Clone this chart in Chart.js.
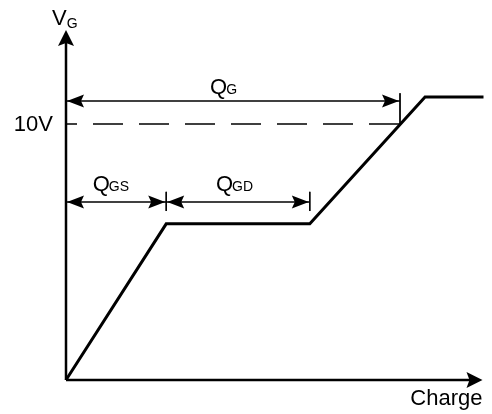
<!DOCTYPE html>
<html>
<head>
<meta charset="utf-8">
<script src="https://cdn.jsdelivr.net/npm/chart.js@4"></script>
<style>
  body { margin: 0; background: #fff; }
  #wrap { width: 492px; height: 414px; position: relative; }
</style>
</head>
<body>
<div id="wrap"><canvas id="ctx"></canvas></div>
<script>
// gate charge curve (charge in nC, gate voltage in V)
const curveCharge = [0, 12, 29.2, 43, 50];
const curveVolt = [0, 6.1, 6.1, 11.05, 11.05];

// dimension spans Q_GS, Q_GD, Q_G
const spanSubs = ['GS', 'GD', 'G'];
const spanStart = [0, 12, 0];
const spanEnd = [12, 29.2, 40];
const spanLevel = [6.95, 6.95, 10.9];
const labelCharge = [3.2, 17.95, 17.25];
const labelVolt = [7.38, 7.38, 11.17];

// little end ticks
const tickCharge = [12, 29.2, 40];
const tickTop = [7.35, 7.35, 11.2];
const tickBottom = [6.6, 6.6, 10];

// 10V reference
const refVolt = 10;
const refLabel = '10V';

const FONT = 'Liberation Sans, Arial, sans-serif';

const datasets = [];
datasets.push({
  data: curveCharge.map((c, i) => ({x: c, y: curveVolt[i]})),
  borderColor: '#000', borderWidth: 3, pointRadius: 0, clip: false
});
datasets.push({
  data: [{x: 0, y: refVolt}, {x: spanEnd[2], y: refVolt}],
  borderColor: '#000', borderWidth: 1.5, borderDash: [30, 16], borderDashOffset: 19, pointRadius: 0
});
spanSubs.forEach((s, i) => {
  datasets.push({
    data: [{x: spanStart[i], y: spanLevel[i]}, {x: spanEnd[i], y: spanLevel[i]}],
    borderColor: '#000', borderWidth: 1.5, pointRadius: 0
  });
});
tickCharge.forEach((c, i) => {
  datasets.push({
    data: [{x: c, y: tickTop[i]}, {x: c, y: tickBottom[i]}],
    borderColor: '#000', borderWidth: 1, pointRadius: 0
  });
});

function arrowHead(ctx, tx, ty, dir, len, half) {
  // dir: 'left','right','up'
  ctx.beginPath();
  if (dir === 'left') {
    ctx.moveTo(tx, ty); ctx.lineTo(tx + len, ty - half); ctx.lineTo(tx + len - 3, ty); ctx.lineTo(tx + len, ty + half);
  } else if (dir === 'right') {
    ctx.moveTo(tx, ty); ctx.lineTo(tx - len, ty - half); ctx.lineTo(tx - len + 3, ty); ctx.lineTo(tx - len, ty + half);
  } else {
    ctx.moveTo(tx, ty); ctx.lineTo(tx - half, ty + len); ctx.lineTo(tx, ty + len - 3); ctx.lineTo(tx + half, ty + len);
  }
  ctx.closePath();
  ctx.fill();
}

function qLabel(ctx, px, py, sub) {
  ctx.font = '22px ' + FONT;
  ctx.fillText('Q', px, py);
  const w = ctx.measureText('Q').width;
  ctx.font = '14px ' + FONT;
  ctx.fillText(sub, px + w - 1, py);
}

const extras = {
  id: 'extras',
  afterDatasetsDraw(chart) {
    const {ctx, scales: {x, y}} = chart;
    const x0 = x.getPixelForValue(0);
    const y0 = y.getPixelForValue(0);
    ctx.save();
    ctx.fillStyle = '#000';
    ctx.strokeStyle = '#000';

    // axes
    ctx.lineWidth = 2.5;
    ctx.beginPath();
    ctx.moveTo(x0, y0); ctx.lineTo(x0, y.top + 10);
    ctx.moveTo(x0, y0); ctx.lineTo(x.right - 10, y0);
    ctx.stroke();
    arrowHead(ctx, x0, y.top, 'up', 16, 8);
    arrowHead(ctx, x.right - 1, y0, 'right', 16, 8);

    // span arrowheads + labels
    ctx.textAlign = 'left';
    ctx.textBaseline = 'alphabetic';
    spanSubs.forEach((s, i) => {
      const py = y.getPixelForValue(spanLevel[i]);
      arrowHead(ctx, x.getPixelForValue(spanStart[i]) + 1, py, 'left', 17, 6.5);
      arrowHead(ctx, x.getPixelForValue(spanEnd[i]) - 1, py, 'right', 17, 6.5);
      qLabel(ctx, x.getPixelForValue(labelCharge[i]), y.getPixelForValue(labelVolt[i]), s);
    });

    // 10V
    ctx.font = '22px ' + FONT;
    ctx.textAlign = 'right';
    ctx.fillText(refLabel, x0 - 13, y.getPixelForValue(refVolt) + 7);

    // axis titles
    ctx.textAlign = 'left';
    ctx.font = '22px ' + FONT;
    ctx.fillText('V', x0 - 14, 25);
    const vw = ctx.measureText('V').width;
    ctx.font = '14px ' + FONT;
    ctx.fillText('G', x0 - 14 + vw, 28);

    ctx.font = '22px ' + FONT;
    ctx.textAlign = 'right';
    ctx.fillText('Charge', x.right - 1, 405);
    ctx.restore();
  }
};

new Chart(document.getElementById('ctx'), {
  type: 'line',
  data: { datasets: datasets },
  options: {
    responsive: true,
    maintainAspectRatio: false,
    animation: false,
    layout: { padding: { left: 66, right: 8.5, top: 30, bottom: 34 } },
    scales: {
      x: { type: 'linear', min: 0, max: 50, display: false },
      y: { type: 'linear', min: 0, max: 13.67, display: false }
    },
    plugins: { legend: { display: false }, tooltip: { enabled: false } }
  },
  plugins: [extras]
});
</script>
</body>
</html>
